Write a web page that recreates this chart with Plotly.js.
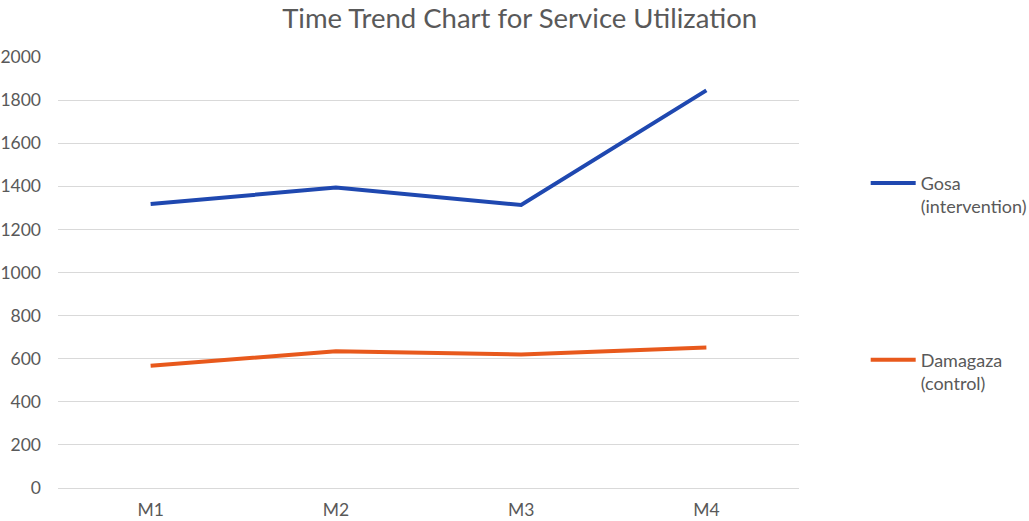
<!DOCTYPE html>
<html>
<head>
<meta charset="utf-8">
<script src="https://cdn.plot.ly/plotly-3.0.1.min.js"></script>
<style>
  html, body { margin: 0; padding: 0; background: #fff; }
  #chart_area { width: 1029px; height: 521px; }
</style>
</head>
<body>
<div id="chart_area"></div>
<script>
// months on the x axis
var months = ['M1', 'M2', 'M3', 'M4'];
// service utilization per month
var gosa = [1318, 1394, 1313, 1845];
var damagaza = [567, 635, 620, 652];
var yTicks = [0, 200, 400, 600, 800, 1000, 1200, 1400, 1600, 1800, 2000];

var grey = '#595959';

var trace0 = {
  type: 'scatter',
  mode: 'lines',
  name: 'Gosa<br>(intervention)',
  x: months,
  y: gosa,
  line: { color: '#1f48b0', width: 4 },
  legend: 'legend'
};
var trace1 = {
  type: 'scatter',
  mode: 'lines',
  name: 'Damagaza<br>(control)',
  x: months,
  y: damagaza,
  line: { color: '#e8591c', width: 4 },
  legend: 'legend2'
};

var legendStyle = {
  font: { family: 'Lato, sans-serif', size: 18, color: grey },
  bgcolor: 'rgba(0,0,0,0)',
  valign: 'top',
  itemwidth: 45,
  xanchor: 'left',
  yanchor: 'top'
};

var layout = {
  width: 1029,
  height: 521,
  margin: { l: 58, r: 230, t: 57, b: 33, autoexpand: false },
  paper_bgcolor: '#fff',
  plot_bgcolor: '#fff',
  font: { family: 'Lato, sans-serif', color: grey },
  title: {
    text: 'Time Trend Chart for Service Utilization',
    font: { size: 27.5, color: grey },
    x: 0.505,
    xanchor: 'center',
    y: 0.965,
    yanchor: 'middle'
  },
  showlegend: true,
  legend: Object.assign({ x: 1.09, y: 0.75 }, legendStyle),
  legend2: Object.assign({ x: 1.09, y: 0.34 }, legendStyle),
  xaxis: {
    type: 'category',
    range: [-0.5, 3.5],
    showgrid: false,
    zeroline: false,
    showline: true,
    linecolor: '#d9d9d9',
    linewidth: 1,
    ticks: '',
    ticklabelstandoff: 6,
    tickfont: { size: 17.5, color: grey }
  },
  yaxis: {
    range: [0, 2000],
    tickvals: yTicks,
    showgrid: true,
    gridcolor: '#d9d9d9',
    gridwidth: 1,
    zeroline: false,
    showline: false,
    ticks: '',
    ticklabelstandoff: 16,
    tickfont: { size: 17.5, color: grey }
  }
};

var config = { responsive: false, displayModeBar: false };

Plotly.newPlot('chart_area', [trace0, trace1], layout, config);
</script>
</body>
</html>
